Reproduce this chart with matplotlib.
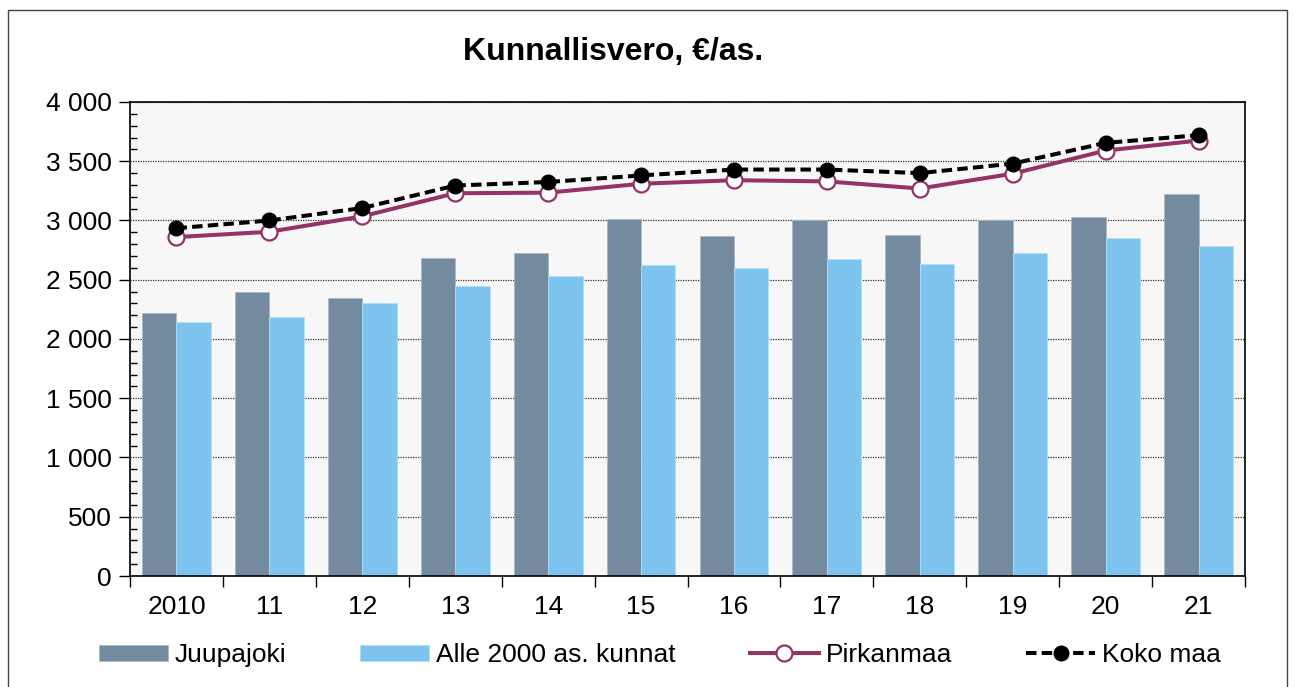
import numpy as np
import matplotlib.pyplot as plt
from matplotlib.patches import Rectangle
from matplotlib.ticker import FuncFormatter, MultipleLocator

plt.rcParams['font.family'] = ['Liberation Sans', 'DejaVu Sans']

years = ["2010", "11", "12", "13", "14", "15", "16", "17", "18", "19", "20", "21"]
juupajoki = [2220, 2395, 2350, 2685, 2725, 3010, 2865, 3000, 2875, 3005, 3030, 3225]
alle2000 = [2145, 2185, 2305, 2450, 2535, 2625, 2600, 2675, 2635, 2725, 2850, 2785]
pirkanmaa = [2860, 2905, 3035, 3230, 3235, 3310, 3340, 3330, 3270, 3395, 3590, 3675]
koko_maa = [2935, 3000, 3105, 3295, 3325, 3380, 3430, 3430, 3400, 3480, 3655, 3720]

fig = plt.figure(figsize=(12.95, 6.87), dpi=100)
fig.patches.append(Rectangle((8 / 1295, -0.01), 1279 / 1295, 1 - 10 / 687 + 0.01,
                             transform=fig.transFigure, fill=False,
                             edgecolor="#444444", lw=1))

ax = fig.add_axes([130 / 1295, 1 - 576 / 687, 1115 / 1295, 474 / 687])
ax.set_facecolor("#F7F7F7")

x = np.arange(len(years))
w = 0.37
b1 = ax.bar(x - w / 2, juupajoki, w, color="#738A9F", edgecolor="#A9B8C6", lw=0.6,
            label="Juupajoki", zorder=2)
b2 = ax.bar(x + w / 2, alle2000, w, color="#7DC5EE", edgecolor="#B5DDF4", lw=0.6,
            label="Alle 2000 as. kunnat", zorder=2)
l1, = ax.plot(x, pirkanmaa, color="#953366", lw=2.9, marker="o", ms=11.5,
              mfc="white", mec="#953366", mew=1.6, label="Pirkanmaa", zorder=3)
l2, = ax.plot(x, koko_maa, color="black", lw=2.9, ls=(0, (2.6, 1.3)), marker="o", ms=10.5,
              mfc="black", mec="black", label="Koko maa", zorder=4)

ax.set_xlim(-0.5, len(years) - 0.5)
ax.set_ylim(0, 4000)
ax.yaxis.set_major_locator(MultipleLocator(500))
ax.yaxis.set_minor_locator(MultipleLocator(100))
ax.yaxis.set_major_formatter(FuncFormatter(lambda v, p: f"{int(v):,}".replace(",", " ")))
ax.yaxis.set_tick_params(which="major", direction="out", length=8, width=1,
                         labelsize=19, pad=5)
ax.yaxis.set_tick_params(which="minor", direction="in", length=5, width=1)

ax.set_xticks(x)
ax.set_xticklabels(years)
ax.set_xticks(np.arange(len(years) + 1) - 0.5, minor=True)
ax.tick_params(axis="x", which="major", length=0, labelsize=19, pad=14)
ax.tick_params(axis="x", which="minor", direction="out", length=8, width=1)

ax.grid(axis="y", which="major", color="#333333", ls=(0, (1, 1)), lw=0.9, zorder=1)
for s in ax.spines.values():
    s.set_color("black")
    s.set_linewidth(1.2)

fig.text(613 / 1295, 1 - 52 / 687, "Kunnallisvero, €/as.", ha="center", va="center",
         fontsize=23, fontweight="bold")

fig.legend([b1, b2, l1, l2], ["Juupajoki", "Alle 2000 as. kunnat", "Pirkanmaa", "Koko maa"],
           loc="center", bbox_to_anchor=(660 / 1295, 1 - 655 / 687), ncol=4,
           frameon=False, fontsize=19, handlelength=2.6, handleheight=0.55,
           handletextpad=0.28, columnspacing=2.8)

fig.savefig("out.png", dpi=100)
